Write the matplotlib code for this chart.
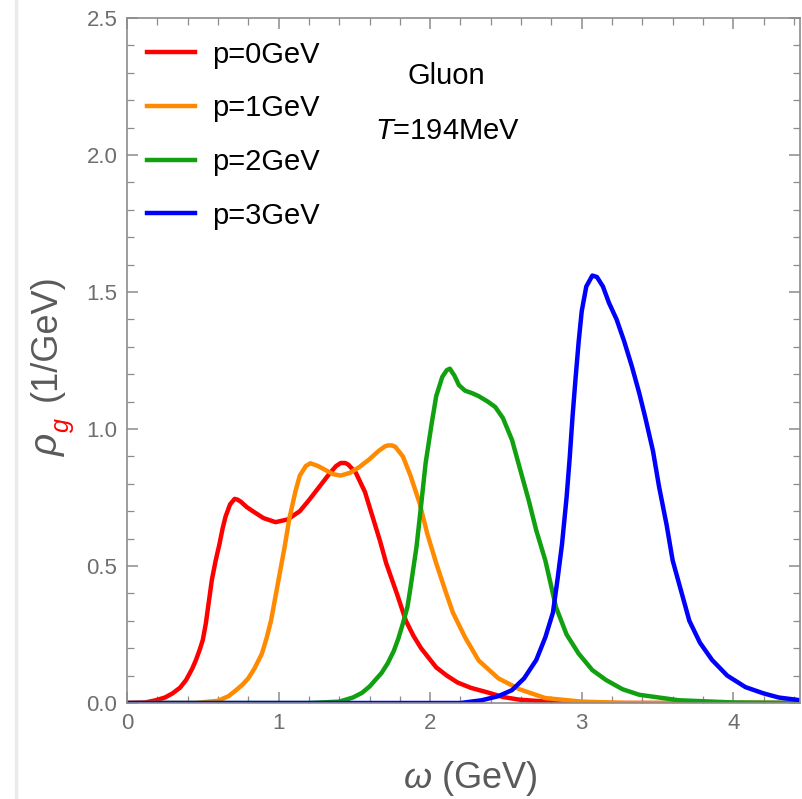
import numpy as np
import matplotlib
matplotlib.use("Agg")
import matplotlib.pyplot as plt
from matplotlib.ticker import MultipleLocator
from matplotlib.lines import Line2D

plt.rcParams['font.family'] = ['Liberation Sans', 'DejaVu Sans']
plt.rcParams['mathtext.fontset'] = 'custom'
plt.rcParams['mathtext.rm'] = 'Liberation Sans'
plt.rcParams['mathtext.it'] = 'Liberation Sans:italic'

# ---------------- data ----------------
labels = ['p=0GeV', 'p=1GeV', 'p=2GeV', 'p=3GeV']
colors = ['#ff0000', '#ff8a00', '#10a010', '#0000ff']

w_p0 = [0, 0.12, 0.19, 0.25, 0.30, 0.35, 0.39, 0.43, 0.455, 0.48, 0.50, 0.52, 0.54, 0.56, 0.585,
        0.61, 0.63, 0.65, 0.68, 0.71, 0.73, 0.75, 0.79, 0.83, 0.90, 0.98, 1.06, 1.14, 1.20,
        1.27, 1.34, 1.38, 1.41, 1.44, 1.46, 1.51, 1.57, 1.62, 1.67, 1.71, 1.78, 1.84, 1.89,
        1.94, 2.04, 2.11, 2.18, 2.27, 2.37, 2.48, 2.59, 2.8, 3.2, 4.5]
rho_p0 = [0, 0.002, 0.01, 0.02, 0.035, 0.056, 0.084, 0.125, 0.157, 0.195, 0.23, 0.29, 0.37, 0.45, 0.52,
          0.58, 0.635, 0.68, 0.725, 0.745, 0.742, 0.735, 0.715, 0.70, 0.675, 0.66, 0.67, 0.70, 0.74,
          0.79, 0.84, 0.865, 0.876, 0.876, 0.87, 0.84, 0.77, 0.68, 0.59, 0.51, 0.40, 0.30, 0.245,
          0.20, 0.13, 0.10, 0.075, 0.055, 0.04, 0.022, 0.012, 0.004, 0, 0]

w_p1 = [0, 0.45, 0.60, 0.67, 0.72, 0.76, 0.80, 0.84, 0.89, 0.92, 0.95, 1.00, 1.04, 1.07, 1.11,
        1.14, 1.18, 1.21, 1.26, 1.31, 1.36, 1.41, 1.47, 1.53, 1.60, 1.66, 1.70, 1.72, 1.75,
        1.77, 1.82, 1.87, 1.93, 1.98, 2.04, 2.10, 2.15, 2.23, 2.32, 2.45, 2.59, 2.76, 3.0, 3.3, 4.5]
rho_p1 = [0, 0, 0.008, 0.025, 0.047, 0.066, 0.09, 0.125, 0.18, 0.235, 0.30, 0.45, 0.57, 0.67, 0.77,
          0.83, 0.865, 0.875, 0.865, 0.85, 0.835, 0.83, 0.84, 0.86, 0.89, 0.92, 0.936, 0.94, 0.94,
          0.935, 0.90, 0.83, 0.73, 0.62, 0.51, 0.41, 0.33, 0.24, 0.155, 0.09, 0.05, 0.018, 0.005, 0, 0]

w_p2 = [0, 1.2, 1.40, 1.49, 1.55, 1.60, 1.68, 1.72, 1.76, 1.79, 1.82, 1.85, 1.87, 1.91, 1.94,
        1.97, 2.01, 2.04, 2.08, 2.11, 2.13, 2.16, 2.19, 2.23, 2.28, 2.32, 2.38, 2.43, 2.48,
        2.54, 2.60, 2.65, 2.70, 2.76, 2.83, 2.90, 2.98, 3.07, 3.16, 3.27, 3.38, 3.64, 4.0, 4.5]
rho_p2 = [0, 0, 0.005, 0.02, 0.037, 0.06, 0.11, 0.145, 0.19, 0.235, 0.29, 0.35, 0.42, 0.57, 0.72,
          0.875, 1.02, 1.12, 1.19, 1.215, 1.22, 1.195, 1.16, 1.14, 1.13, 1.12, 1.10, 1.08, 1.04,
          0.96, 0.84, 0.74, 0.63, 0.52, 0.35, 0.25, 0.18, 0.12, 0.084, 0.05, 0.03, 0.01, 0.002, 0]

w_p3 = [0, 2.2, 2.34, 2.45, 2.54, 2.62, 2.70, 2.76, 2.81, 2.84, 2.87, 2.90, 2.92, 2.94, 2.96,
        2.98, 3.00, 3.03, 3.07, 3.10, 3.14, 3.18, 3.23, 3.28, 3.33, 3.38, 3.42, 3.47, 3.51,
        3.56, 3.60, 3.66, 3.71, 3.78, 3.86, 3.96, 4.08, 4.20, 4.30, 4.5]
rho_p3 = [0, 0, 0.01, 0.025, 0.047, 0.09, 0.157, 0.24, 0.33, 0.45, 0.58, 0.75, 0.89, 1.05, 1.19,
          1.32, 1.43, 1.52, 1.56, 1.555, 1.52, 1.46, 1.40, 1.32, 1.23, 1.13, 1.04, 0.92, 0.79,
          0.65, 0.52, 0.40, 0.30, 0.22, 0.157, 0.10, 0.058, 0.035, 0.02, 0.006]

omegas = [w_p0, w_p1, w_p2, w_p3]
rhos = [rho_p0, rho_p1, rho_p2, rho_p3]

# ---------------- figure ----------------
fig = plt.figure(figsize=(8.03, 7.99), dpi=100)
ax = fig.add_axes([127 / 803, 96 / 799, 673 / 803, 685 / 799])

for w, r, c, lab in zip(omegas, rhos, colors, labels):
    ax.plot(w, r, color=c, lw=3.2, label=lab, solid_joinstyle='round')

ax.set_xlim(0, 4.44)
ax.set_ylim(0, 2.5)

frame_col = '#8c8c8c'
for s in ax.spines.values():
    s.set_color(frame_col)
    s.set_linewidth(1.2)

ax.xaxis.set_major_locator(MultipleLocator(1))
ax.xaxis.set_minor_locator(MultipleLocator(0.2))
ax.yaxis.set_major_locator(MultipleLocator(0.5))
ax.yaxis.set_minor_locator(MultipleLocator(0.1))
ax.tick_params(which='both', direction='in', top=True, right=True, color=frame_col)
ax.tick_params(which='major', length=8, width=1.1, labelsize=16, labelcolor='#6e6e6e', pad=7)
ax.tick_params(which='minor', length=5, width=0.9)
ax.xaxis.set_major_formatter(plt.FuncFormatter(lambda v, p: f'{v:.0f}'))
ax.yaxis.set_major_formatter(plt.FuncFormatter(lambda v, p: f'{v:.1f}'))

leg = ax.legend(loc='upper left', bbox_to_anchor=(0.0297, 0.967), frameon=False, fontsize=21,
                handlelength=1.64, handletextpad=0.58, labelspacing=0.88,
                borderaxespad=0, borderpad=0)

ax.text(0.474, 0.915, 'Gluon', transform=ax.transAxes, ha='center', va='center', fontsize=21)
ax.text(0.476, 0.835, '$T$=194MeV', transform=ax.transAxes, ha='center', va='center', fontsize=21)

# axis labels (pieces, so the subscript can be red)
lab_col = '#5a5a5a'
fig.text(470 / 803, 1 - 778 / 799, r'$\omega$ (GeV)', ha='center', va='center',
         fontsize=26, color=lab_col)
fig.text(49 / 803, 1 - 444 / 799, r'$\rho$', rotation=90, ha='center', va='center',
         fontsize=28, color=lab_col)
fig.text(64 / 803, 1 - 425 / 799, r'$g$', rotation=90, ha='center', va='center',
         fontsize=18, color='#ff0000')
fig.text(46 / 803, 1 - 338 / 799, '(1/GeV)', rotation=90, ha='center', va='center',
         fontsize=26, color=lab_col)

# thin page border at the left
fig.add_artist(Line2D([16 / 803, 16 / 803], [0, 1], transform=fig.transFigure,
                      color='#ebebeb', lw=2.5))

fig.savefig('out.png', dpi=100, facecolor='white')
